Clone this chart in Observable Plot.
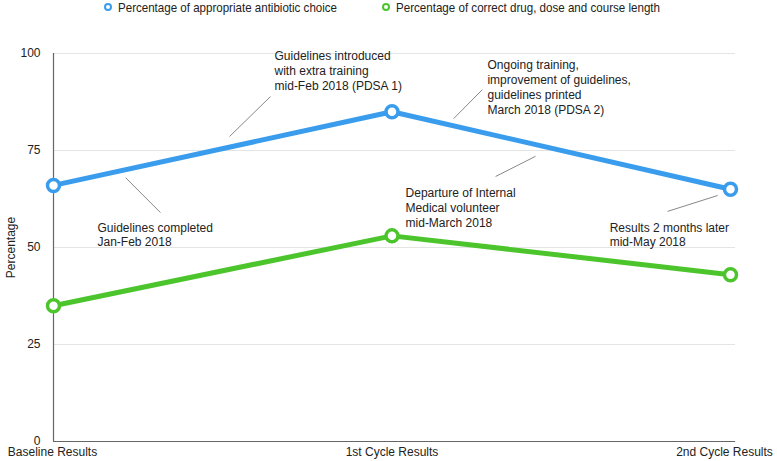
<!DOCTYPE html>
<html>
<head>
<meta charset="utf-8">
<script src="https://cdn.jsdelivr.net/npm/d3@7"></script>
<script src="https://cdn.jsdelivr.net/npm/@observablehq/plot@0.6"></script>
<style>
  body { margin: 0; background: #fff; }
  #wrap { position: relative; width: 777px; height: 461px; overflow: hidden; }
  #legend { position: absolute; top: -2px; left: 0; width: 777px; height: 18px;
    font-family: "Liberation Sans", Arial, sans-serif; font-size: 13px; color: #222; }
  .item { position: absolute; top: 0; display: flex; align-items: center; height: 18px; white-space: nowrap; }
  .sw { width: 4px; height: 4px; border-radius: 50%; border: 2px solid; margin-right: 6px; box-sizing: content-box; flex: none; }
  .tx { display: inline-block; transform-origin: 0 50%; }
  #chart { position: absolute; top: 0; left: 0; }
</style>
</head>
<body>
<div id="wrap">
  <div id="chart"></div>
  <div id="legend"></div>
</div>
<script>
const categories = ["Baseline Results", "1st Cycle Results", "2nd Cycle Results"];
const seriesNames = ["Percentage of appropriate antibiotic choice", "Percentage of correct drug, dose and course length"];
const seriesColors = ["#3a9cec", "#4cc52d"];
const antibioticChoice = [66, 85, 65];
const correctDrugDose = [35, 53, 43];
const yTicks = [0, 25, 50, 75, 100];

// annotations: x in category-index units, y in percentage units
const noteTexts = [
  "Guidelines introduced\nwith extra training\nmid-Feb 2018 (PDSA 1)",
  "Ongoing training,\nimprovement of guidelines,\nguidelines printed\nMarch 2018 (PDSA 2)",
  "Departure of Internal\nMedical volunteer\nmid-March 2018",
  "Results 2 months later\nmid-May 2018",
  "Guidelines completed\nJan-Feb 2018"
];
const noteX = [0.653, 1.282, 1.040, 1.643, 0.130];
const noteY = [100.9, 98.6, 65.6, 56.8, 56.8];
const connX1 = [0.641, 1.267, 1.306, 1.814, 0.213];
const connY1 = [88.9, 90.7, 68.3, 59.3, 68.0];
const connX2 = [0.520, 1.182, 1.424, 1.962, 0.316];
const connY2 = [78.6, 83.2, 73.5, 63.4, 59.0];

const data = [];
categories.forEach((c, i) => {
  data.push({i, series: seriesNames[0], value: antibioticChoice[i]});
});
categories.forEach((c, i) => {
  data.push({i, series: seriesNames[1], value: correctDrugDose[i]});
});
const notes = noteTexts.map((t, k) => ({t, x: noteX[k], y: noteY[k]}));
const conns = noteTexts.map((t, k) => ({x1: connX1[k], y1: connY1[k], x2: connX2[k], y2: connY2[k]}));

const font = '"Liberation Sans", Arial, sans-serif';
const xAxisOpts = {tickFormat: d => categories[d], tickSize: 0, tickPadding: 6, label: null, fontSize: 12, fill: "#222"};

const plot = Plot.plot({
  width: 777,
  height: 461,
  marginTop: 53,
  marginBottom: 20,
  marginLeft: 53,
  marginRight: 47,
  style: {fontFamily: font, fontSize: "12px", color: "#222", background: "#fff"},
  x: {domain: [0, 2]},
  y: {domain: [0, 100]},
  color: {domain: seriesNames, range: seriesColors},
  marks: [
    Plot.ruleY(yTicks.filter(d => d > 0), {x1: 0, x2: 2.015, stroke: "#e4e4e4", strokeWidth: 1}),
    Plot.ruleY([0], {x1: 0, x2: 2.015, stroke: "#666", strokeWidth: 1.2}),
    Plot.ruleX([0], {y1: 0, y2: 100, stroke: "#666", strokeWidth: 1.2}),
    Plot.axisY({ticks: yTicks, tickSize: 0, tickPadding: 13, label: "Percentage", labelAnchor: "center",
      labelArrow: "none", labelOffset: 47, fontSize: 12, fill: "#222"}),
    Plot.axisX({...xAxisOpts, ticks: [0], dx: -1}),
    Plot.axisX({...xAxisOpts, ticks: [1]}),
    Plot.axisX({...xAxisOpts, ticks: [2], dx: -6}),
    Plot.link(conns, {x1: "x1", y1: "y1", x2: "x2", y2: "y2", stroke: "#888", strokeWidth: 1}),
    Plot.text(notes, {x: "x", y: "y", text: "t", textAnchor: "start", lineAnchor: "top", lineHeight: 1.23,
      fontSize: 12, fill: "#222"}),
    Plot.line(data, {x: "i", y: "value", stroke: "series", strokeWidth: 5}),
    Plot.dot(data, {x: "i", y: "value", stroke: "series", fill: "white", r: 6, strokeWidth: 3.5})
  ]
});
plot.style.overflow = "visible";
document.getElementById("chart").appendChild(plot);

const legend = document.getElementById("legend");
const legendLeft = [104, 382];
const legendTextWidth = [219, 264];
seriesNames.forEach((s, k) => {
  const it = document.createElement("div");
  it.className = "item";
  it.style.left = legendLeft[k] + "px";
  const sw = document.createElement("span");
  sw.className = "sw";
  sw.style.borderColor = seriesColors[k];
  const tx = document.createElement("span");
  tx.className = "tx";
  tx.textContent = s;
  it.appendChild(sw); it.appendChild(tx);
  legend.appendChild(it);
  const w = tx.getBoundingClientRect().width;
  if (w > 0) tx.style.transform = `scaleX(${legendTextWidth[k] / w})`;
});
</script>
</body>
</html>
